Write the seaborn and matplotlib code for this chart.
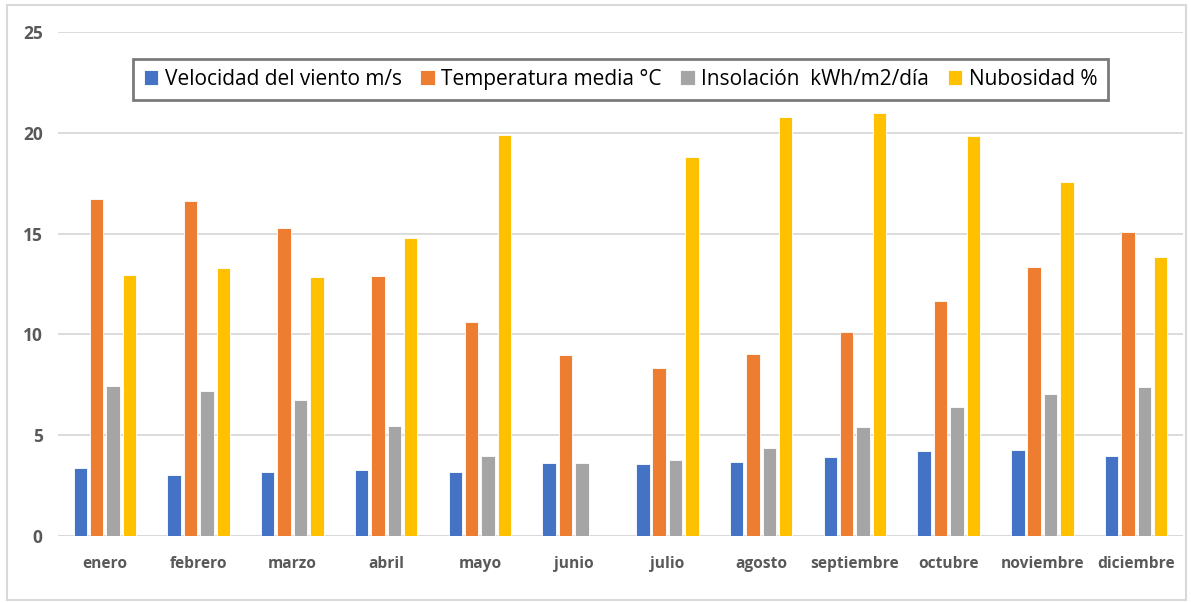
import numpy as np
import pandas as pd
import seaborn as sns
import matplotlib.pyplot as plt
from matplotlib.patches import Rectangle

meses = ["enero", "febrero", "marzo", "abril", "mayo", "junio", "julio",
         "agosto", "septiembre", "octubre", "noviembre", "diciembre"]
series = ["Velocidad del viento m/s", "Temperatura media °C",
          "Insolación  kWh/m2/día", "Nubosidad %"]
viento = [3.37, 3.03, 3.17, 3.27, 3.17, 3.6, 3.57, 3.67, 3.93, 4.22, 4.27, 3.97]
temperatura = [16.7, 16.6, 15.3, 12.9, 10.6, 9.0, 8.33, 9.03, 10.1, 11.65, 13.35, 15.1]
insolacion = [7.44, 7.2, 6.75, 5.45, 3.97, 3.62, 3.77, 4.38, 5.4, 6.4, 7.05, 7.4]
nubosidad = [12.95, 13.3, 12.85, 14.8, 19.9, 0.0, 18.8, 20.8, 21.0, 19.85, 17.55, 13.85]
colores = ["#4472C4", "#ED7D31", "#A5A5A5", "#FFC000"]

df = pd.DataFrame({
    "mes": meses * 4,
    "serie": np.repeat(series, len(meses)),
    "valor": viento + temperatura + insolacion + nubosidad,
})

sns.set_style("white")
plt.rcParams["font.family"] = ["Open Sans", "DejaVu Sans"]

fig = plt.figure(figsize=(11.91, 6.03), dpi=100)
ax = fig.add_axes([0.0487, 0.111, 0.9446, 0.836])

sns.barplot(data=df, x="mes", y="valor", hue="serie", palette=colores,
            saturation=1, width=0.7, gap=0.18, edgecolor="white",
            linewidth=0.6, ax=ax)

ax.set_ylim(0, 25)
ax.set_yticks(range(0, 26, 5))
ax.set_xlim(-0.5, 11.5)
ax.yaxis.grid(True, color="#D9D9D9", linewidth=1.3)
ax.set_axisbelow(True)
sns.despine(ax=ax, left=True, bottom=True)
ax.axhline(0, color="#D9D9D9", linewidth=1.5, zorder=0)
ax.set_xlabel("")
ax.set_ylabel("")
ax.tick_params(axis="both", length=0, colors="#595959", labelsize=11.2)
ax.tick_params(axis="y", labelsize=12.5, pad=11)
ax.tick_params(axis="x", pad=14)
for lab in ax.get_xticklabels() + ax.get_yticklabels():
    lab.set_fontweight("bold")

leg = ax.legend(loc="upper center", bbox_to_anchor=(0.5, 0.968), ncol=4,
                frameon=True, fancybox=False, fontsize=15,
                handlelength=0.7, handleheight=0.7, handletextpad=0.3,
                columnspacing=0.9, borderpad=0.5)
leg.get_frame().set_edgecolor("#595959")
leg.get_frame().set_linewidth(2)
for t in leg.get_texts():
    t.set_color("black")

fig.patches.append(Rectangle((0.006, 0.005), 0.99, 0.987, transform=fig.transFigure,
                             fill=False, edgecolor="#D9D9D9", linewidth=1.5))

fig.savefig("out.png", dpi=100)
